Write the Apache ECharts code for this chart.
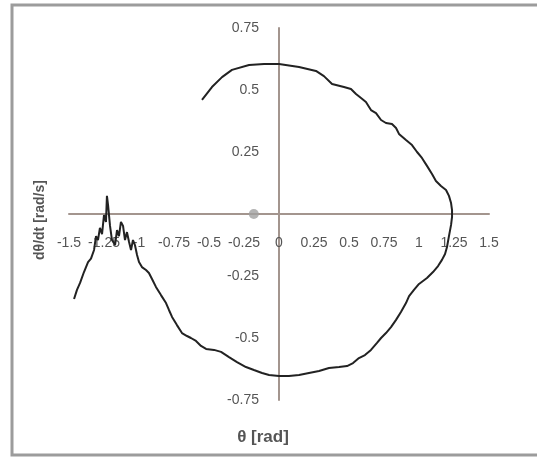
<!DOCTYPE html>
<html>
<head>
<meta charset="utf-8">
<script src="https://cdn.jsdelivr.net/npm/echarts@6/dist/echarts.min.js"></script>
<style>html,body{margin:0;padding:0;background:#fff}#c{width:537px;height:459px}</style>
</head>
<body>
<div id="c"></div>
<script>
// θ [rad]
var theta = [-0.55,-0.479,-0.407,-0.336,-0.214,-0.107,0,0.143,0.264,0.321,0.379,0.464,0.514,0.55,0.586,0.621,0.657,0.693,0.729,0.764,0.807,0.836,0.857,0.907,0.95,0.986,1.021,1.057,1.093,1.121,1.157,1.193,1.214,1.229,1.236,1.236,1.229,1.214,1.2,1.186,1.164,1.136,1.1,1.057,1.0,0.964,0.929,0.907,0.871,0.836,0.8,0.764,0.729,0.7,0.657,0.614,0.571,0.529,0.486,0.429,0.357,0.286,0.214,0.143,0.071,0,-0.071,-0.121,-0.179,-0.236,-0.3,-0.357,-0.414,-0.464,-0.521,-0.557,-0.593,-0.629,-0.657,-0.693,-0.729,-0.764,-0.786,-0.807,-0.843,-0.879,-0.907,-0.929,-0.95,-0.979,-1.0,-1.014,-1.029,-1.043,-1.057,-1.071,-1.086,-1.1,-1.114,-1.129,-1.143,-1.157,-1.171,-1.193,-1.207,-1.221,-1.229,-1.236,-1.25,-1.264,-1.279,-1.293,-1.307,-1.321,-1.343,-1.364,-1.393,-1.421,-1.443,-1.464];
// dθ/dt [rad/s]
var omega = [0.46,0.512,0.552,0.581,0.601,0.605,0.605,0.593,0.577,0.556,0.524,0.512,0.504,0.484,0.468,0.452,0.419,0.407,0.379,0.367,0.363,0.347,0.323,0.298,0.278,0.25,0.226,0.194,0.161,0.133,0.113,0.097,0.073,0.044,0.016,-0.012,-0.044,-0.089,-0.133,-0.161,-0.185,-0.21,-0.234,-0.258,-0.282,-0.306,-0.331,-0.359,-0.395,-0.427,-0.456,-0.48,-0.5,-0.52,-0.548,-0.569,-0.581,-0.601,-0.613,-0.617,-0.621,-0.633,-0.641,-0.649,-0.653,-0.653,-0.649,-0.641,-0.629,-0.617,-0.597,-0.577,-0.556,-0.548,-0.544,-0.532,-0.512,-0.5,-0.492,-0.48,-0.448,-0.415,-0.387,-0.359,-0.327,-0.294,-0.262,-0.238,-0.226,-0.214,-0.194,-0.165,-0.125,-0.105,-0.145,-0.113,-0.073,-0.105,-0.048,-0.032,-0.089,-0.065,-0.125,-0.105,-0.048,0.036,0.073,-0.032,-0.004,-0.081,-0.056,-0.105,-0.089,-0.145,-0.18,-0.194,-0.234,-0.278,-0.306,-0.343];
var equilibrium = [[-0.18, 0]];
var xTicks = [-1.5,-1.25,-1,-0.75,-0.5,-0.25,0,0.25,0.5,0.75,1,1.25,1.5];
var yTicks = [-0.75,-0.5,-0.25,0,0.25,0.5,0.75];

var pts = theta.map(function(t,i){return [t, omega[i]];});
var chart = echarts.init(document.getElementById('c'));
var axisColor = '#a3958e';
var font = 'Liberation Sans';
chart.setOption({
  animation: false,
  grid: {left: 69, right: 48, top: 28, bottom: 59},
  graphic: [
    {type:'rect', shape:{x:12, y:5, width:540, height:450}, style:{fill:'none', stroke:'#9c9c9c', lineWidth:3}, z:-1},
    {type:'text', x:263, y:437, style:{text:'θ [rad]', fontSize:17, fontFamily:font, fill:'#555', textAlign:'center', textVerticalAlign:'middle', fontWeight:'bold'}},
    {type:'text', x:40, y:220, rotation:Math.PI/2, style:{text:'dθ/dt [rad/s]', fontSize:14, fontFamily:font, fill:'#555', textAlign:'center', textVerticalAlign:'middle', fontWeight:'bold'}}
  ],
  xAxis: {
    type:'value', min:xTicks[0], max:xTicks[xTicks.length-1], interval:0.25,
    position:'bottom', offset:-186,
    axisLine:{onZero:false, lineStyle:{color:axisColor, width:2}},
    axisTick:{show:false}, splitLine:{show:false},
    axisLabel:{margin:22, fontSize:14, fontFamily:font, color:'#555',
      formatter:function(v){return String(Math.round(v*100)/100);}}
  },
  yAxis: {
    type:'value', min:yTicks[0], max:yTicks[yTicks.length-1], interval:0.25,
    position:'left', offset:-210,
    axisLine:{onZero:false, lineStyle:{color:axisColor, width:2}},
    axisTick:{show:false}, splitLine:{show:false},
    axisLabel:{margin:20, fontSize:14, fontFamily:font, color:'#555',
      formatter:function(v){return v===0?'':String(Math.round(v*100)/100);}}
  },
  series: [
    {type:'line', data:pts, showSymbol:false, smooth:false, lineStyle:{color:'#222', width:2}},
    {type:'scatter', data:equilibrium, symbolSize:10, itemStyle:{color:'#a0a0a0'}}
  ]
});
</script>
</body>
</html>
